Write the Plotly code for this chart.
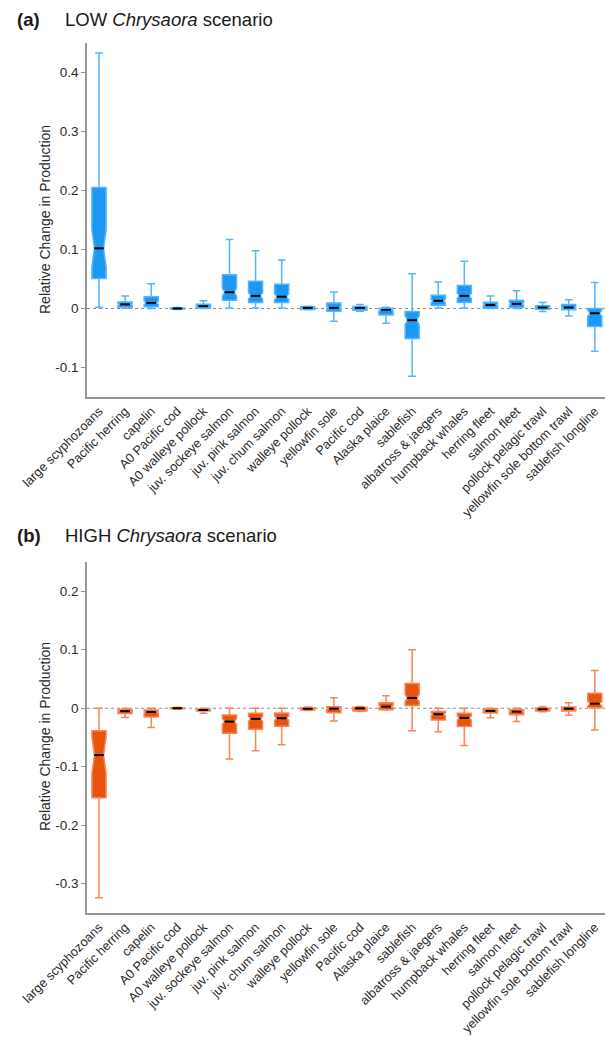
import plotly.graph_objects as go

categories = ["large scyphozoans", "Pacific herring", "capelin", "A0 Pacific cod",
              "A0 walleye pollock", "juv. sockeye salmon", "juv. pink salmon",
              "juv. chum salmon", "walleye pollock", "yellowfin sole", "Pacific cod",
              "Alaska plaice", "sablefish", "albatross & jaegers", "humpback whales",
              "herring fleet", "salmon fleet", "pollock pelagic trawl",
              "yellowfin sole bottom trawl", "sablefish longline"]

# LOW Chrysaora scenario
low_lo = [0.002, 0.0005, 0.0, -0.0015, 0.0, 0.001, 0.001, 0.001, -0.002, -0.0215,
          -0.0045, -0.025, -0.115, 0.001, 0.001, 0.0, 0.0, -0.005, -0.0125, -0.0724]
low_q1 = [0.051, 0.002, 0.003, -0.001, 0.001, 0.014, 0.010, 0.010, -0.0015, -0.0046,
          -0.003, -0.011, -0.051, 0.0056, 0.0107, 0.001, 0.0017, -0.0012, -0.0023, -0.0305]
low_med = [0.102, 0.007, 0.0095, 0.0, 0.004, 0.0276, 0.0214, 0.020, 0.001, 0.001,
           0.001, -0.0023, -0.0198, 0.013, 0.0214, 0.006, 0.0078, 0.0017, 0.0017, -0.008]
low_q3 = [0.205, 0.011, 0.020, 0.001, 0.0073, 0.057, 0.046, 0.041, 0.003, 0.0095,
          0.0033, 0.0005, -0.005, 0.0225, 0.039, 0.0107, 0.014, 0.0045, 0.0067, 0.0]
low_hi = [0.433, 0.021, 0.042, 0.0015, 0.013, 0.117, 0.0977, 0.082, 0.004, 0.028,
          0.0067, 0.002, 0.0587, 0.045, 0.080, 0.021, 0.030, 0.010, 0.015, 0.044]
low_notch = [0.031, 0.0015, 0.0025, 0.0003, 0.001, 0.0065, 0.0055, 0.005, 0.0007, 0.002,
             0.001, 0.0017, 0.008, 0.0025, 0.0045, 0.0015, 0.002, 0.0009, 0.0014, 0.005]

# HIGH Chrysaora scenario
high_lo = [-0.324, -0.016, -0.033, -0.0015, -0.0086, -0.0868, -0.0727, -0.0625, -0.004, -0.022,
           -0.0055, -0.003, -0.0386, -0.0403, -0.0636, -0.0163, -0.0228, -0.0058, -0.012, -0.037]
high_q1 = [-0.153, -0.009, -0.0148, -0.001, -0.0046, -0.0426, -0.0357, -0.0306, -0.003, -0.0075,
           -0.0045, -0.0024, 0.0045, -0.020, -0.0313, -0.008, -0.011, -0.0046, -0.0046, 0.001]
high_med = [-0.080, -0.005, -0.0063, 0.0, -0.003, -0.0228, -0.0182, -0.017, -0.001, -0.0007,
            0.0, 0.0027, 0.0175, -0.0102, -0.0165, -0.0046, -0.0058, -0.0017, -0.0007, 0.0078]
high_q3 = [-0.0386, -0.002, -0.003, 0.001, -0.0017, -0.0114, -0.0085, -0.008, 0.001, 0.0027,
           0.0015, 0.0095, 0.0425, -0.0057, -0.0085, -0.0012, -0.0024, 0.0005, 0.0022, 0.0255]
high_hi = [0.0, 0.0, 0.0, 0.0015, 0.0, 0.0, 0.0, 0.0, 0.002, 0.018,
           0.003, 0.0215, 0.0998, 0.0, 0.0, 0.0, 0.0, 0.0027, 0.0095, 0.0647]
high_notch = [0.031, 0.001, 0.0018, 0.0003, 0.0005, 0.0048, 0.0042, 0.0035, 0.0006, 0.0015,
              0.0009, 0.0018, 0.006, 0.0022, 0.0036, 0.0011, 0.0013, 0.0008, 0.0011, 0.004]

low_ticks = [-0.1, 0, 0.1, 0.2, 0.3, 0.4]
low_ticktext = ["-0.1", "0", "0.1", "0.2", "0.3", "0.4"]
high_ticks = [-0.3, -0.2, -0.1, 0, 0.1, 0.2]
high_ticktext = ["-0.3", "-0.2", "-0.1", "0", "0.1", "0.2"]

BLUE_FILL = "rgb(28,152,242)"
BLUE_LINE = "rgb(80,182,255)"
ORANGE_FILL = "rgb(232,84,14)"
ORANGE_LINE = "rgb(246,134,86)"

FONT = "Liberation Sans, Arial, sans-serif"

fig = go.Figure()

fig.add_trace(go.Box(
    x=categories, q1=low_q1, median=low_med, q3=low_q3,
    lowerfence=low_lo, upperfence=low_hi, notchspan=low_notch,
    notched=True, notchwidth=0.18, boxpoints=False,
    width=0.54, whiskerwidth=0.55,
    fillcolor=BLUE_FILL, line=dict(color=BLUE_LINE, width=1.5),
    xaxis="x", yaxis="y", showlegend=False, hoverinfo="skip"))
fig.add_trace(go.Scatter(
    x=categories, y=low_med, mode="markers",
    marker=dict(symbol="line-ew", size=7, line=dict(color="black", width=2)),
    xaxis="x", yaxis="y", showlegend=False, hoverinfo="skip"))

fig.add_trace(go.Box(
    x=categories, q1=high_q1, median=high_med, q3=high_q3,
    lowerfence=high_lo, upperfence=high_hi, notchspan=high_notch,
    notched=True, notchwidth=0.18, boxpoints=False,
    width=0.54, whiskerwidth=0.55,
    fillcolor=ORANGE_FILL, line=dict(color=ORANGE_LINE, width=1.5),
    xaxis="x2", yaxis="y2", showlegend=False, hoverinfo="skip"))
fig.add_trace(go.Scatter(
    x=categories, y=high_med, mode="markers",
    marker=dict(symbol="line-ew", size=7, line=dict(color="black", width=2)),
    xaxis="x2", yaxis="y2", showlegend=False, hoverinfo="skip"))

L, R, T, B = 87, 0, 43, 124
W, H = 605, 1037
PW = W - L - R
PH = H - T - B


def px_x(px):
    return (px - L) / PW


def px_y(py):
    return (H - B - py) / PH


top_dom = [px_y(397), 1.0]
bot_dom = [0.0, px_y(562)]

xcommon = dict(type="category", range=[-0.46, 19.39], showline=True,
               linecolor="rgb(150,150,150)", linewidth=1.5, ticks="",
               tickangle=-45, tickfont=dict(family=FONT, size=12.8, color="#2a2a2a"),
               showgrid=False, zeroline=False, fixedrange=True)
ycommon = dict(showline=True, linecolor="rgb(150,150,150)", linewidth=1.5,
               ticks="outside", ticklen=4, tickcolor="rgb(150,150,150)",
               tickfont=dict(family=FONT, size=13.5, color="#2a2a2a"),
               showgrid=False, zeroline=False, fixedrange=True)

fig.update_layout(
    width=W, height=H,
    margin=dict(l=L, r=R, t=T, b=B, autoexpand=False),
    paper_bgcolor="white", plot_bgcolor="white",
    xaxis=dict(domain=[0, 1], anchor="y", **xcommon),
    yaxis=dict(domain=top_dom, anchor="x", range=[-0.15, 0.45],
               tickvals=low_ticks, ticktext=low_ticktext, **ycommon),
    xaxis2=dict(domain=[0, 1], anchor="y2", **xcommon),
    yaxis2=dict(domain=bot_dom, anchor="x2", range=[-0.35, 0.25],
                tickvals=high_ticks, ticktext=high_ticktext, **ycommon),
    shapes=[
        dict(type="line", xref="x domain", x0=0, x1=1, yref="y", y0=0, y1=0,
             line=dict(color="rgb(140,140,140)", width=1, dash="dot"), layer="below"),
        dict(type="line", xref="x2 domain", x0=0, x1=1, yref="y2", y0=0, y1=0,
             line=dict(color="rgb(140,140,140)", width=1, dash="dot"), layer="below"),
    ],
    annotations=[
        dict(text="<b>(a)</b>", xref="paper", yref="paper", x=px_x(15), y=px_y(20),
             xanchor="left", yanchor="middle", showarrow=False,
             font=dict(family=FONT, size=18.5, color="#1a1a1a")),
        dict(text="LOW <i>Chrysaora</i> scenario", xref="paper", yref="paper",
             x=px_x(63), y=px_y(20), xanchor="left", yanchor="middle", showarrow=False,
             font=dict(family=FONT, size=18.5, color="#1a1a1a")),
        dict(text="<b>(b)</b>", xref="paper", yref="paper", x=px_x(15), y=px_y(535),
             xanchor="left", yanchor="middle", showarrow=False,
             font=dict(family=FONT, size=18.5, color="#1a1a1a")),
        dict(text="HIGH <i>Chrysaora</i> scenario", xref="paper", yref="paper",
             x=px_x(63), y=px_y(535), xanchor="left", yanchor="middle", showarrow=False,
             font=dict(family=FONT, size=18.5, color="#1a1a1a")),
        dict(text="Relative Change in Production", xref="paper", yref="paper",
             x=px_x(45), y=px_y(220), xanchor="center", yanchor="middle",
             textangle=-90, showarrow=False,
             font=dict(family=FONT, size=14, color="#2a2a2a")),
        dict(text="Relative Change in Production", xref="paper", yref="paper",
             x=px_x(45), y=px_y(737), xanchor="center", yanchor="middle",
             textangle=-90, showarrow=False,
             font=dict(family=FONT, size=14, color="#2a2a2a")),
    ],
)

fig.write_html("out.html",
               config={"displayModeBar": False},
               post_script="document.body.style.margin='0px';"
                           "document.body.style.overflow='hidden';")
